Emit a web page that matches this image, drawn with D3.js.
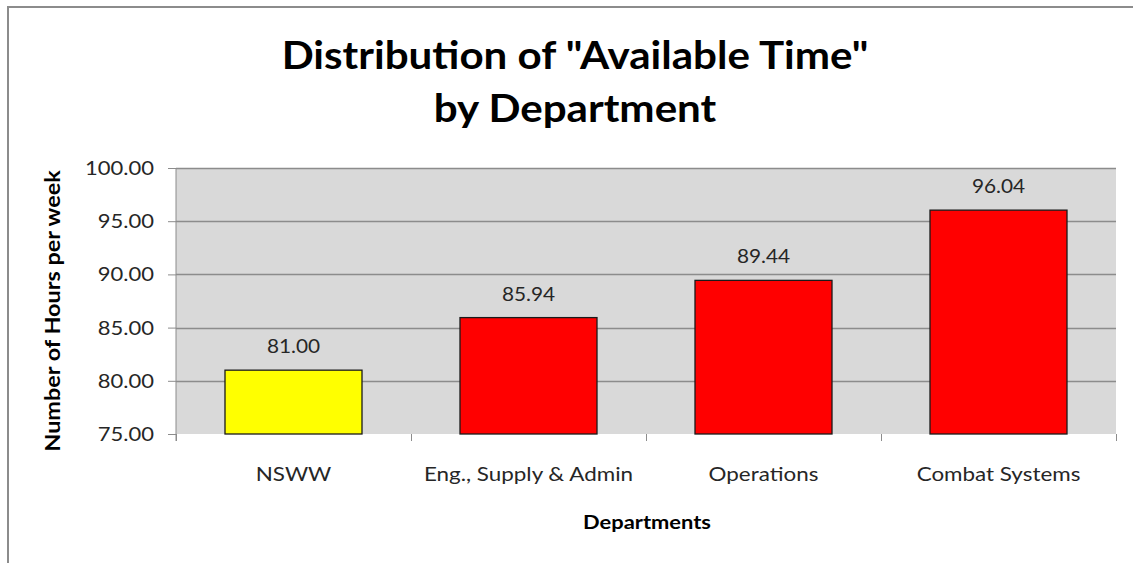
<!DOCTYPE html>
<html>
<head>
<meta charset="utf-8">
<script src="https://cdn.jsdelivr.net/npm/d3@7"></script>
<style>
  html, body { margin: 0; padding: 0; background: #fff; overflow: hidden; }
  svg { display: block; }
  text { font-family: Lato, "Open Sans", sans-serif; }
</style>
</head>
<body>
<svg id="chart" width="1133" height="563"></svg>
<script>
const categories = ["NSWW", "Eng., Supply & Admin", "Operations", "Combat Systems"];
const values = [81.00, 85.94, 89.44, 96.04];
const barColors = ["#ffff00", "#ff0000", "#ff0000", "#ff0000"];
const yTicks = [75, 80, 85, 90, 95, 100];
const titleLines = ['Distribution of "Available Time"', 'by Department'];
const xTitle = "Departments";
const yTitle = "Number of Hours per week";

const svg = d3.select("#chart");
const W = 1133, H = 563;
const m = { left: 176, top: 168, right: 1116, bottom: 434 };

// stretch text horizontally by a factor (reference font is wider than Lato)
function stretch(sel, f) {
  sel.each(function () {
    const len = this.getComputedTextLength();
    d3.select(this).attr("textLength", len * f).attr("lengthAdjust", "spacingAndGlyphs");
  });
}

// outer chart border (top + left visible)
svg.append("path").attr("d", `M8,${H}V7H${W}`).attr("fill", "none")
  .attr("stroke", "#8c8c8c").attr("stroke-width", 2);

const x = d3.scaleBand().domain(categories).range([m.left, m.right]).paddingInner(0.417).paddingOuter(0.2085);
const y = d3.scaleLinear().domain([75, 100]).range([m.bottom, m.top]);

// plot area
svg.append("rect").attr("x", m.left).attr("y", m.top)
  .attr("width", m.right - m.left).attr("height", m.bottom - m.top).attr("fill", "#d9d9d9");

// gridlines
svg.append("g").selectAll("line").data(yTicks.filter(d => d > 75)).join("line")
  .attr("x1", m.left).attr("x2", m.right)
  .attr("y1", d => Math.round(y(d)) + 0.5).attr("y2", d => Math.round(y(d)) + 0.5)
  .attr("stroke", "#8c8c8c").attr("stroke-width", 1.5);

// y axis
const yAxis = svg.append("g").attr("transform", `translate(${m.left},0)`)
  .call(d3.axisLeft(y).tickValues(yTicks).tickFormat(d3.format(".2f")).tickSize(8).tickPadding(14));
yAxis.select(".domain").attr("stroke", "#8c8c8c").attr("d", `M0,${m.top}V${m.bottom + 7}`);
yAxis.selectAll(".tick line").attr("stroke", "#8c8c8c");
yAxis.selectAll(".tick text").attr("fill", "#262626").style("font-size", "20px")
  .style("font-family", "Lato, sans-serif").call(stretch, 1.1);

// x axis (ticks at band boundaries)
const xAxisG = svg.append("g").attr("transform", `translate(0,${m.bottom})`);
const boundaries = categories.map(c => x(c) - x.step() * x.paddingInner() / 2).concat([m.right]);
xAxisG.selectAll("line").data(boundaries).join("line")
  .attr("x1", d => Math.round(d) + 0.5).attr("x2", d => Math.round(d) + 0.5)
  .attr("y1", 0).attr("y2", 7).attr("stroke", "#8c8c8c");
xAxisG.selectAll("text").data(categories).join("text")
  .attr("x", d => x(d) + x.bandwidth() / 2).attr("y", 47)
  .attr("text-anchor", "middle").attr("fill", "#262626").style("font-size", "20px")
  .text(d => d).call(stretch, 1.12);

// bars
svg.append("g").selectAll("rect").data(values).join("rect")
  .attr("x", (d, i) => x(categories[i]))
  .attr("y", d => y(d))
  .attr("width", x.bandwidth())
  .attr("height", d => y(75) - y(d))
  .attr("fill", (d, i) => barColors[i])
  .attr("stroke", "#1a1a1a").attr("stroke-width", 1.3);

// data labels
svg.append("g").selectAll("text").data(values).join("text")
  .attr("x", (d, i) => x(categories[i]) + x.bandwidth() / 2)
  .attr("y", d => y(d) - 17)
  .attr("text-anchor", "middle").attr("fill", "#262626").style("font-size", "20px")
  .text(d => d.toFixed(2)).call(stretch, 1.04);

// title
svg.append("g").selectAll("text").data(titleLines).join("text")
  .attr("x", 575).attr("y", (d, i) => 69 + i * 53)
  .attr("text-anchor", "middle").attr("fill", "#000")
  .style("font-size", "39px").style("font-weight", "bold")
  .text(d => d).call(stretch, 1.08);

// axis titles
svg.append("text").attr("x", 647).attr("y", 529).attr("text-anchor", "middle")
  .style("font-size", "19px").style("font-weight", "bold").attr("fill", "#000").text(xTitle)
  .call(stretch, 1.15);
svg.append("text").attr("transform", "translate(60,311) rotate(-90)").attr("text-anchor", "middle")
  .style("font-size", "20px").style("font-weight", "bold").attr("fill", "#000").text(yTitle)
  .call(stretch, 1.17);
</script>
</body>
</html>
